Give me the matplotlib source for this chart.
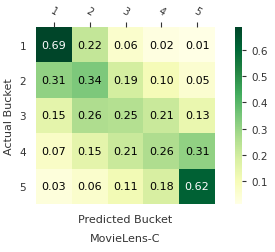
import numpy as np
import matplotlib.pyplot as plt

# confusion matrix: actual bucket (rows) vs predicted bucket (cols)
buckets = ["1", "2", "3", "4", "5"]
row1 = [0.69, 0.22, 0.06, 0.02, 0.01]
row2 = [0.31, 0.34, 0.19, 0.10, 0.05]
row3 = [0.15, 0.26, 0.25, 0.21, 0.13]
row4 = [0.07, 0.15, 0.21, 0.26, 0.31]
row5 = [0.03, 0.06, 0.11, 0.18, 0.62]
cm = np.array([row1, row2, row3, row4, row5])

fig = plt.figure(figsize=(2.75, 2.53), dpi=100)
ax = fig.add_axes([36/275, 1 - 205/253, 179/275, 177/253])
cax = fig.add_axes([235/275, 1 - 205/253, 7/275, 177/253])

im = ax.imshow(cm, cmap="YlGn", aspect="auto")
for i in range(cm.shape[0]):
    for j in range(cm.shape[1]):
        v = cm[i, j]
        ax.text(j, i, f"{v:.2f}", ha="center", va="center", fontsize=8,
                color="white" if v > 0.5 else "black")

ax.xaxis.tick_top()
ax.set_xticks(range(5))
ax.set_xticklabels(buckets, rotation=-30, ha="center", fontsize=7, color="#333333")
ax.set_yticks(range(5))
ax.set_yticklabels(buckets, fontsize=7.5, color="#333333")
ax.tick_params(axis="x", length=3.5, width=0.8, color="#333333", pad=4)
ax.tick_params(axis="y", length=0, pad=7)
for s in ax.spines.values():
    s.set_visible(False)
ax.set_ylabel("Actual Bucket", fontsize=8, color="#333333", labelpad=4)

cb = fig.colorbar(im, cax=cax, ticks=[0.1, 0.2, 0.3, 0.4, 0.5, 0.6])
cb.outline.set_visible(False)
cb.ax.tick_params(labelsize=7.5, length=3, width=0.8, colors="#333333")

fig.text(125/275, 1 - 220/253, "Predicted Bucket", ha="center", va="center",
         fontsize=8, color="#333333")
fig.text(125/275, 1 - 239/253, "MovieLens-C", ha="center", va="center",
         fontsize=8, color="#333333")

fig.savefig("out.png", dpi=100)
